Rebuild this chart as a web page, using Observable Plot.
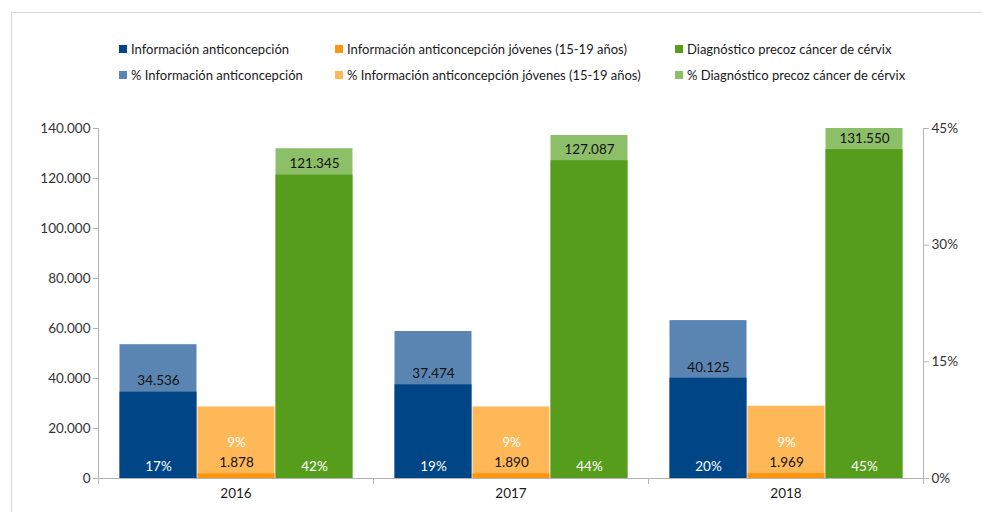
<!DOCTYPE html>
<html>
<head>
<meta charset="utf-8">
<script src="https://cdn.jsdelivr.net/npm/d3@7"></script>
<script src="https://cdn.jsdelivr.net/npm/@observablehq/plot@0.6"></script>
<style>
  html, body { margin: 0; padding: 0; background: #fff; overflow: hidden; }
  #wrap { position: relative; width: 982px; height: 512px; font-family: Lato, "Open Sans", sans-serif; }
  #border { position: absolute; left: 11px; top: 12px; width: 1000px; height: 520px;
            border-left: 1px solid #d6d6d6; border-top: 1px solid #d6d6d6; box-sizing: border-box; }
  #legend { position: absolute; left: 0; top: 0; width: 982px; height: 100px; }
  .item { position: absolute; display: flex; align-items: center; font-size: 13px; color: #1a1a1a; white-space: nowrap; }
  .sw { width: 8px; height: 8px; margin-right: 4px; }
  #chart { position: absolute; left: 0; top: 0; }
</style>
</head>
<body>
<div id="wrap">
  <div id="border"></div>
  <div id="chart"></div>
  <div id="legend"></div>
</div>
<script>
// ---- data ----
const years = ["2016", "2017", "2018"];
const categories = [
  "Información anticoncepción",
  "Información anticoncepción jóvenes (15-19 años)",
  "Diagnóstico precoz cáncer de cérvix"
];
const counts2016 = [34536, 1878, 121345];
const counts2017 = [37474, 1890, 127087];
const counts2018 = [40125, 1969, 131550];
const pct2016 = [17.2, 9.2, 42.4];
const pct2017 = [18.9, 9.2, 44.1];
const pct2018 = [20.3, 9.3, 45.0];
const leftTicks = [0, 20000, 40000, 60000, 80000, 100000, 120000, 140000];
const rightTicks = [0, 15, 30, 45];
const darkColors = ["#004586", "#ff950e", "#579d1c"];
const lightColors = ["#5a85b2", "#ffb857", "#8dbf68"];

// ---- build rows ----
const countsByYear = [counts2016, counts2017, counts2018];
const pctByYear = [pct2016, pct2017, pct2018];
const rows = [];
years.forEach((yr, i) => categories.forEach((cat, j) => {
  rows.push({year: yr, cat, ci: j, count: countsByYear[i][j], pct: pctByYear[i][j]});
}));

const yMax = 140000, pMax = 45, k = yMax / pMax;
const fmtNum = d => d3.format(",")(d).replace(/,/g, ".");

const chart = Plot.plot({
  width: 982, height: 512,
  marginLeft: 98, marginRight: 59, marginTop: 128, marginBottom: 34,
  style: {fontFamily: "Lato, 'Open Sans', sans-serif", fontSize: "13px", background: "transparent", overflow: "visible"},
  fx: {domain: years, padding: 0, label: null},
  x: {domain: categories, paddingInner: 0, paddingOuter: 0.25, axis: null},
  y: {domain: [0, yMax], label: null, axis: null},
  marks: [
    Plot.barY(rows, {fx: "year", x: "cat", y: d => d.pct * k, fill: d => lightColors[d.ci], insetLeft: 0.5, insetRight: 0.5}),
    Plot.barY(rows, {fx: "year", x: "cat", y: "count", fill: d => darkColors[d.ci], insetLeft: 0.5, insetRight: 0.5}),
    Plot.ruleY([0], {stroke: "#b3b3b3"}),
    Plot.text(rows, {fx: "year", x: "cat", y: "count", text: d => fmtNum(d.count), dy: -11, fill: "#111", fontSize: 13.5}),
    Plot.text(rows.filter(d => d.ci !== 1), {fx: "year", x: "cat", y: () => 0, dy: -12,
      text: d => Math.round(d.pct) + "%", fill: "#ffffff", fontSize: 13.5}),
    Plot.text(rows.filter(d => d.ci === 1), {fx: "year", x: "cat", y: d => d.pct * k / 2,
      text: d => Math.round(d.pct) + "%", fill: "#ffffff", fontSize: 13.5}),
    Plot.axisY({anchor: "left", ticks: leftTicks, tickFormat: fmtNum, tickSize: 5, tickPadding: 3, stroke: "#b3b3b3", fill: "#333", fontSize: 13.5, label: null}),
    Plot.axisY({anchor: "right", ticks: rightTicks.map(p => p * k), tickFormat: d => Math.round(d / k) + "%", tickSize: 5, tickPadding: 3, stroke: "#b3b3b3", fill: "#333", fontSize: 13.5, label: null}),
    Plot.axisFx({anchor: "bottom", tickSize: 0, tickPadding: 10, fill: "#1a1a1a", fontSize: 13.5, label: null})
  ]
});
document.getElementById("chart").appendChild(chart);

// ---- axis lines and band-boundary ticks from Plot's scales ----
const fx = chart.scale("fx");
const ys = chart.scale("y");
const y0 = ys.apply(0), yTop = ys.apply(yMax);
const bw = fx.bandwidth;
const g = d3.select(chart).append("g").attr("stroke", "#b3b3b3").attr("stroke-width", 1);
const edges = new Set();
years.forEach(yr => { const s = fx.apply(yr); edges.add(Math.round(s) + 0.5); edges.add(Math.round(s + bw) + 0.5); });
edges.forEach(xp => g.append("line").attr("x1", xp).attr("x2", xp).attr("y1", y0).attr("y2", y0 + 6));
const xl = Math.round(fx.apply(years[0])) + 0.5, xr = Math.round(fx.apply(years[years.length - 1]) + bw) + 0.5;
[xl, xr].forEach(xp => g.append("line").attr("x1", xp).attr("x2", xp).attr("y1", yTop).attr("y2", y0));

// ---- legend ----
const legend = document.getElementById("legend");
const colX = [119, 335, 675];
const rowY = [50, 76];
[darkColors, lightColors].forEach((cols, r) => {
  categories.forEach((cat, j) => {
    const it = document.createElement("div");
    it.className = "item";
    it.style.left = colX[j] + "px";
    it.style.top = (rowY[r] - 9) + "px";
    const sw = document.createElement("div");
    sw.className = "sw";
    sw.style.background = cols[j];
    const tx = document.createElement("span");
    tx.textContent = (r === 1 ? "% " : "") + cat;
    it.appendChild(sw); it.appendChild(tx);
    legend.appendChild(it);
  });
});
</script>
</body>
</html>
